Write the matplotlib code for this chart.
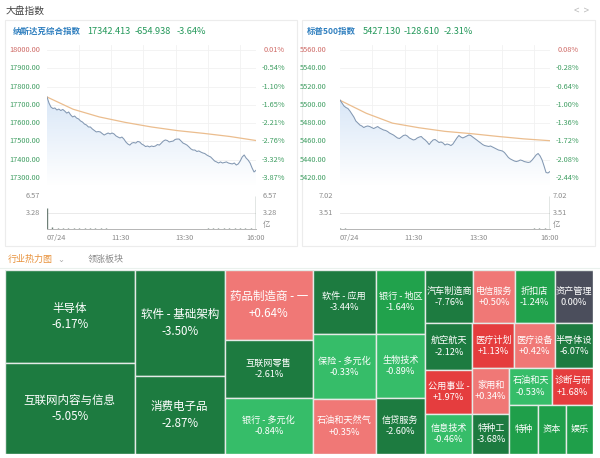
"""US index snapshot: Nasdaq / S&P 500 intraday panels plus sector heat map."""

import matplotlib
matplotlib.use("Agg")
import matplotlib.pyplot as plt
import numpy as np
from matplotlib.colors import LinearSegmentedColormap
from matplotlib.patches import Rectangle
from matplotlib.transforms import blended_transform_factory

plt.rcParams["font.family"] = ["Noto Sans CJK SC", "DejaVu Sans"]

FIG_W, FIG_H = 600, 458
SESSION_MIN = 390

# ---------------------------------------------------------------- data
time_labels = ["07/24", "11:30", "13:30", "16:00"]
time_label_min = [0, 120, 240, 390]

ndx_name = "纳斯达克综合指数"
ndx_last = 17342.413
ndx_change = -654.938
ndx_pct = -3.64
ndx_ticks = [18000, 17900, 17800, 17700, 17600, 17500, 17400, 17300]
ndx_vol_ticks = [6.57, 3.28]
ndx_price = [
    17743, 17710, 17688, 17680, 17683, 17672, 17677, 17669, 17675, 17666,
    17655, 17661, 17645, 17634, 17639, 17628, 17623, 17612, 17606, 17595,
    17590, 17579, 17579, 17568, 17560, 17552, 17554, 17552, 17543, 17535,
    17541, 17546, 17541, 17546, 17541, 17530, 17524, 17519, 17524, 17513,
    17497, 17486, 17480, 17491, 17494, 17491, 17500, 17497, 17486, 17480,
    17472, 17475, 17470, 17475, 17472, 17475, 17483, 17480, 17491, 17502,
    17508, 17505, 17497, 17500, 17502, 17511, 17513, 17513, 17502, 17491,
    17486, 17480, 17470, 17459, 17453, 17453, 17445, 17448, 17442, 17437,
    17434, 17426, 17420, 17415, 17404, 17393, 17388, 17382, 17388, 17382,
    17385, 17388, 17382, 17379, 17377, 17382, 17371, 17377, 17393, 17415,
    17426, 17409, 17398, 17382, 17355, 17333, 17342,
]
ndx_avg = [17743, 17676, 17634, 17604, 17579, 17559, 17544, 17527, 17505]
ndx_vol = [
    4.30, 0.35, 0.28, 0.25, 0.22, 0.20, 0.18, 0.18, 0.15, 0.14,
    0.12, 0.12, 0.10, 0.10, 0.10, 0.09, 0.09, 0.08, 0.08, 0.08,
    0.08, 0.08, 0.07, 0.08, 0.08, 0.09, 0.09, 0.10, 0.10, 0.10,
    0.11, 0.12, 0.12, 0.13, 0.14, 0.15, 0.18, 0.20, 0.30, 6.57,
]

spx_name = "标普500指数"
spx_last = 5427.130
spx_change = -128.610
spx_pct = -2.31
spx_ticks = [5560, 5540, 5520, 5500, 5480, 5460, 5440, 5420]
spx_vol_ticks = [7.02, 3.51]
spx_price = [
    5505.3, 5502.0, 5498.8, 5497.1, 5496.0, 5493.3, 5490.0, 5486.7, 5482.3, 5480.2,
    5478.0, 5476.9, 5475.2, 5476.3, 5476.9, 5476.3, 5475.2, 5474.1, 5475.2, 5476.3,
    5474.7, 5473.6, 5472.5, 5472.0, 5470.9, 5469.2, 5468.1, 5467.0, 5465.4, 5463.8,
    5463.2, 5464.8, 5466.5, 5467.0, 5465.9, 5463.8, 5462.7, 5461.6, 5462.1, 5463.8,
    5464.8, 5465.4, 5463.2, 5461.6, 5459.4, 5456.6, 5459.4, 5461.6, 5462.1, 5460.5,
    5458.8, 5459.4, 5458.3, 5456.1, 5457.2, 5456.6, 5455.5, 5457.2, 5460.5, 5463.8,
    5466.5, 5464.8, 5463.8, 5464.8, 5465.9, 5467.0, 5466.5, 5464.8, 5463.2, 5461.6,
    5459.9, 5458.3, 5456.6, 5455.5, 5455.0, 5454.5, 5455.0, 5453.9, 5452.8, 5451.7,
    5450.6, 5450.1, 5449.5, 5447.9, 5445.2, 5442.4, 5440.8, 5439.7, 5438.6, 5438.0,
    5438.6, 5439.7, 5439.1, 5438.0, 5437.5, 5437.0, 5437.5, 5439.7, 5442.4, 5445.2,
    5446.8, 5444.1, 5439.7, 5433.1, 5426.0, 5425.5, 5427.1,
]
spx_avg = [5505.0, 5490.8, 5480.0, 5475.0, 5471.0, 5468.5, 5465.5, 5462.8, 5460.8]
spx_vol = [
    0.30, 0.12, 0.10, 0.09, 0.08, 0.08, 0.07, 0.07, 0.07, 0.06,
    0.06, 0.06, 0.06, 0.05, 0.05, 0.05, 0.05, 0.05, 0.05, 0.05,
    0.05, 0.05, 0.05, 0.05, 0.05, 0.06, 0.06, 0.06, 0.06, 0.07,
    0.07, 0.07, 0.08, 0.08, 0.09, 0.10, 0.12, 0.15, 0.25, 7.02,
]

# sector heat map: name, daily change (%), relative market cap
sec_names = [
    "半导体", "互联网内容与信息", "软件 - 基础架构", "消费电子品",
    "药品制造商 - 一", "互联网零售", "银行 - 多元化",
    "软件 - 应用", "保险 - 多元化", "石油和天然气",
    "银行 - 地区", "生物技术", "信贷服务",
    "汽车制造商", "电信服务", "折扣店", "资产管理",
    "航空航天", "公用事业 -", "信息技术",
    "医疗计划", "医疗设备", "半导体设",
    "家用和", "特种工", "石油和天", "诊断与研",
    "特种", "资本", "娱乐",
]
sec_change = [
    -6.17, -5.05, -3.50, -2.87,
    0.64, -2.61, -0.84,
    -3.44, -0.33, 0.35,
    -1.64, -0.89, -2.60,
    -7.76, 0.50, -1.24, 0.00,
    -2.12, 1.97, -0.46,
    1.13, 0.42, -6.07,
    0.34, -3.68, -0.53, 1.68,
    np.nan, np.nan, np.nan,
]
sec_weight = [
    11904, 11648, 9434, 6942,
    6090, 5046, 4872,
    3968, 4030, 3410,
    3136, 3136, 2744,
    2544, 2173, 2120, 2014,
    2162, 2021, 1880,
    1848, 1804, 1672,
    1665, 1480, 1548, 1476,
    1372, 1372, 1323,
]
# slice-and-dice grouping (h = side by side, v = stacked)
SEC_TREE = ("h", [
    ("v", [0, 1]), ("v", [2, 3]), ("v", [4, 5, 6]), ("v", [7, 8, 9]), ("v", [10, 11, 12]),
    ("v", [
        ("h", [13, 14, 15, 16]),
        ("h", [
            ("v", [17, 18, 19]),
            ("v", [
                ("h", [20, 21, 22]),
                ("h", [
                    ("v", [23, 24]),
                    ("v", [("h", [25, 26]), ("h", [27, 28, 29])]),
                ]),
            ]),
        ]),
    ]),
])

# ---------------------------------------------------------------- style
UP_TXT = "#cf6a66"
DN_TXT = "#3f9e62"
GREY_TXT = "#8a8a8a"
NAME_BLUE = "#2f7fbf"
QUOTE_GREEN = "#24985a"
PRICE_LINE = "#8398b2"
AVG_LINE = "#ebbd8e"
GRID = "#f1f1f1"
VOL_BAR = "#6f8078"

NDX_GEOM = dict(box=(5, 20, 297, 246), plot_x=(47, 256), left_lab=40,
                right_lab=285, vol_left_lab=40, vol_right_lab=263,
                head_x=[13, 87, 135, 177])
SPX_GEOM = dict(box=(302, 20, 595, 246), plot_x=(340, 550), left_lab=327,
                right_lab=579, vol_left_lab=333, vol_right_lab=553,
                head_x=[307, 363, 404, 444])
PRICE_Y = (45, 185)
VOL_Y = (193, 229)


def fx(x):
    return x / FIG_W


def fy(y):
    return 1 - y / FIG_H


def add_px_axes(fig, x0, y0, x1, y1):
    return fig.add_axes([fx(x0), fy(y1), (x1 - x0) / FIG_W, (y1 - y0) / FIG_H])


def draw_panel(fig, geom, name, last, change, pct, ticks, price, avg, vol, vol_ticks):
    bx0, by0, bx1, by1 = geom["box"]
    fig.add_artist(Rectangle((fx(bx0), fy(by1)), (bx1 - bx0) / FIG_W, (by1 - by0) / FIG_H,
                             transform=fig.transFigure, facecolor="white",
                             edgecolor="#ececec", lw=0.8, zorder=0))
    hx = geom["head_x"]
    fig.text(fx(hx[0]), fy(31), name, color=NAME_BLUE, fontsize=6.1, fontweight="bold",
             va="center")
    for x, s in zip(hx[1:], [f"{last:.3f}", f"{change:.3f}", f"{pct:.2f}%"]):
        fig.text(fx(x), fy(31), s, color=QUOTE_GREEN, fontsize=6.6, va="center")

    prev = last - change
    x0, x1 = geom["plot_x"]

    # price axes
    ax = add_px_axes(fig, x0, PRICE_Y[0], x1, PRICE_Y[1])
    per_px = (ticks[0] - ticks[-1]) / 128.0
    ybot = ticks[-1] - 7 * per_px
    ax.set_ylim(ybot, ticks[0] + 5 * per_px)
    ax.set_xlim(0, SESSION_MIN)
    ax.axis("off")
    for t in ticks:
        ax.axhline(t, color=GRID, lw=0.6, zorder=0)
    for m in range(60, SESSION_MIN, 60):
        ax.axvline(m, color=GRID, lw=0.6, zorder=0)

    t_price = np.linspace(0, SESSION_MIN, len(price))
    poly = ax.fill_between(t_price, price, ybot, color="none", lw=0)
    cmap = LinearSegmentedColormap.from_list("fade", ["#ffffff", "#d9e7f7"])
    grad = np.linspace(0, 1, 256).reshape(-1, 1)
    im = ax.imshow(grad, extent=[0, SESSION_MIN, ybot, max(price)], origin="lower",
                   aspect="auto", cmap=cmap, zorder=1)
    im.set_clip_path(poly.get_paths()[0], transform=ax.transData)
    ax.plot(np.linspace(0, SESSION_MIN, len(avg)), avg, color=AVG_LINE, lw=0.9, zorder=2)
    ax.plot(t_price, price, color=PRICE_LINE, lw=0.75, zorder=3)

    tr = blended_transform_factory(fig.transFigure, ax.transData)
    for t in ticks:
        col = UP_TXT if t > prev else DN_TXT
        ax.text(fx(geom["left_lab"]), t, f"{t:.2f}", transform=tr, ha="right",
                va="center", fontsize=5.3, color=col)
        p = (t / prev - 1) * 100
        ax.text(fx(geom["right_lab"]), t, f"{p:.2f}%", transform=tr, ha="right",
                va="center", fontsize=5.3, color=col)

    # volume axes
    vx = add_px_axes(fig, x0, VOL_Y[0], x1, VOL_Y[1])
    vmax = vol_ticks[0]
    vx.set_ylim(0, vmax * 1.1)
    vx.set_xlim(0, SESSION_MIN)
    vx.vlines(np.linspace(0, SESSION_MIN, len(vol)), 0, vol, color=VOL_BAR, lw=1.0)
    vx.axhline(vol_ticks[1], color="#e6e6e6", lw=0.6, zorder=0)
    for s in ("top", "left", "right"):
        vx.spines[s].set_visible(False)
    vx.spines["bottom"].set_color("#b5b5b5")
    vx.spines["bottom"].set_linewidth(0.7)
    vx.set_xticks([])
    vx.set_yticks([])
    vtr = blended_transform_factory(fig.transFigure, vx.transData)
    for v in vol_ticks:
        vx.text(fx(geom["vol_left_lab"]), v, f"{v:.2f}", transform=vtr, ha="right",
                va="center", fontsize=5.3, color=GREY_TXT)
        vx.text(fx(geom["vol_right_lab"]), v, f"{v:.2f}", transform=vtr, ha="left",
                va="center", fontsize=5.3, color=GREY_TXT)
    vx.text(fx(geom["vol_right_lab"]), 0.12, "亿", transform=blended_transform_factory(
        fig.transFigure, vx.transAxes), ha="left", va="center", fontsize=5.3, color=GREY_TXT)

    ttr = blended_transform_factory(vx.transData, fig.transFigure)
    for lab, m in zip(time_labels, time_label_min):
        ha = "center" if m == SESSION_MIN else "left"
        vx.text(m, fy(238), lab, transform=ttr, ha=ha, va="center",
                fontsize=5.3, color=GREY_TXT)


def weight_of(node):
    if isinstance(node, int):
        return sec_weight[node]
    return sum(weight_of(c) for c in node[1])


def split(node, x, y, w, h, out):
    if isinstance(node, int):
        out[node] = (x, y, w, h)
        return
    direction, kids = node
    total = weight_of(node)
    for k in kids:
        f = weight_of(k) / total
        if direction == "h":
            split(k, x, y, w * f, h, out)
            x += w * f
        else:
            split(k, x, y, w, h * f, out)
            y += h * f


def cell_color(c):
    if np.isnan(c):
        return "#1f9f4a"
    if c <= -2:
        return "#1d7b40"
    if c <= -1:
        return "#21a24c"
    if c < 0:
        return "#36bd69"
    if c == 0:
        return "#4b4e5c"
    if c < 1:
        return "#f07876"
    return "#e53d3e"


def draw_treemap(fig):
    ax = add_px_axes(fig, 5, 270, 593, 454)
    ax.set_xlim(0, 1)
    ax.set_ylim(1, 0)
    ax.axis("off")
    rects = {}
    split(SEC_TREE, 0.0, 0.0, 1.0, 1.0, rects)
    for i, (x, y, w, h) in rects.items():
        c = sec_change[i]
        patch = Rectangle((x, y), w, h, facecolor=cell_color(c), edgecolor="#e4ebe7", lw=1.0)
        ax.add_patch(patch)
        big = sec_weight[i] > 5500
        label = sec_names[i] if np.isnan(c) else f"{sec_names[i]}\n{c:+.2f}%"
        if not np.isnan(c) and c == 0:
            label = f"{sec_names[i]}\n0.00%"
        txt = ax.text(x + w / 2, y + h / 2, label, ha="center", va="center",
                      color="white", fontsize=8.3 if big else 6.6, linespacing=1.35)
        txt.set_clip_path(patch)


def main():
    fig = plt.figure(figsize=(FIG_W / 100, FIG_H / 100), dpi=100)
    fig.patch.set_facecolor("white")

    fig.text(fx(6), fy(11), "大盘指数", fontsize=7, color="#444444", va="center")
    fig.text(fx(574), fy(11), "<  >", fontsize=7, color="#bbbbbb", va="center")

    draw_panel(fig, NDX_GEOM, ndx_name, ndx_last, ndx_change, ndx_pct, ndx_ticks,
               ndx_price, ndx_avg, ndx_vol, ndx_vol_ticks)
    draw_panel(fig, SPX_GEOM, spx_name, spx_last, spx_change, spx_pct, spx_ticks,
               spx_price, spx_avg, spx_vol, spx_vol_ticks)

    fig.text(fx(8), fy(259.5), "行业热力图", fontsize=6.5, color="#e8913a", va="center")
    fig.text(fx(57), fy(259.5), "⌄", fontsize=6, color="#aaaaaa", va="center")
    fig.text(fx(88), fy(259.5), "领涨板块", fontsize=6.5, color="#8a8a8a", va="center")
    fig.add_artist(plt.Line2D([fx(0), fx(600)], [fy(268), fy(268)], color="#eaf1ed",
                              lw=0.8, transform=fig.transFigure))

    draw_treemap(fig)
    fig.savefig("out.png", dpi=100)


if __name__ == "__main__":
    main()
